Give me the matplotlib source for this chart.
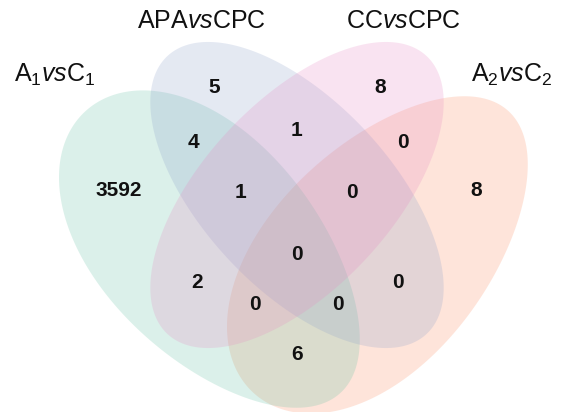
import numpy as np
import matplotlib
matplotlib.use("Agg")
import matplotlib.pyplot as plt
from matplotlib.patches import Polygon

plt.rcParams['font.family'] = ['Liberation Sans', 'DejaVu Sans']
plt.rcParams['mathtext.fontset'] = 'custom'
plt.rcParams['mathtext.rm'] = 'Liberation Sans'
plt.rcParams['mathtext.it'] = 'Liberation Sans:italic'

# set names and colours
set_labels = [r'$\mathrm{A_1}\mathit{vs}\mathrm{C_1}$', r'$\mathrm{APA}\mathit{vs}\mathrm{CPC}$',
              r'$\mathrm{CC}\mathit{vs}\mathrm{CPC}$', r'$\mathrm{A_2}\mathit{vs}\mathrm{C_2}$']
set_colors = ['#66c2a5', '#8da0cb', '#e78ac3', '#fc8d62']

# region counts
region_names = ['A', 'B', 'AB', 'BC', 'C', 'CD', 'D', 'ABC', 'BCD',
                'ABCD', 'AC', 'BD', 'ACD', 'ABD', 'AD']
region_counts = [3592, 5, 4, 1, 8, 0, 8, 1, 0, 0, 2, 0, 0, 0, 6]

# layout (pixel coords, y downwards): center, semi-major, semi-minor, angle, egg factor
shapes = [
    ((213, 252), 190, 108, 48, 0.1),
    ((297, 195), 190, 94, 47, 0.0),
    ((297, 195), 190, 94, 133, 0.0),
    ((381, 252), 190, 108, 132, -0.1),
]
draw_order = [3, 0, 1, 2]  # orange, green, blue, pink
label_pos = [(14, 75, 'left'), (201, 21, 'center'), (403, 21, 'center'), (512, 75, 'center')]
region_pos = {
    'A': (119, 190), 'B': (214, 87), 'AB': (193, 143), 'BC': (297, 130),
    'C': (380, 87), 'CD': (403, 143), 'D': (476, 190), 'ABC': (241, 192),
    'BCD': (352, 192), 'ABCD': (297, 255), 'AC': (197, 282), 'BD': (398, 282),
    'ACD': (255, 305), 'ABD': (338, 305), 'AD': (297, 355),
}


def egg(center, a, b, angle, k, n=300):
    t = np.linspace(0, 2 * np.pi, n)
    u = a * np.cos(t)
    v = b * np.sin(t) * (1 - k * np.cos(t))
    th = np.deg2rad(angle)
    x = center[0] + u * np.cos(th) - v * np.sin(th)
    y = center[1] + u * np.sin(th) + v * np.cos(th)
    return np.column_stack([x, y])


fig = plt.figure(figsize=(5.65, 4.12), dpi=100)
ax = fig.add_axes([0, 0, 1, 1])
ax.set_xlim(0, 565)
ax.set_ylim(412, 0)
ax.axis('off')

for i in draw_order:
    c, a, b, ang, k = shapes[i]
    ax.add_patch(Polygon(egg(c, a, b, ang, k), closed=True, facecolor=set_colors[i],
                         edgecolor='none', alpha=0.23))

for (x, y, ha), lab in zip(label_pos, set_labels):
    ax.text(x, y, lab, ha=ha, va='center', fontsize=18, color='#111111')

for name, cnt in zip(region_names, region_counts):
    x, y = region_pos[name]
    ax.text(x, y, str(cnt), ha='center', va='center', fontsize=15,
            fontweight='bold', color='#111111')

fig.savefig('out.png', dpi=100)
